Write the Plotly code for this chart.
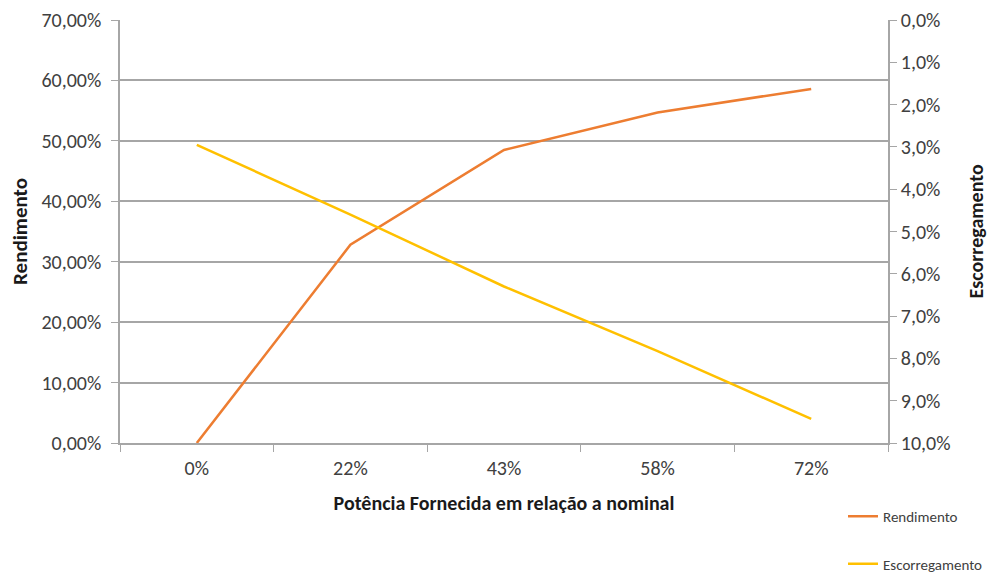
import plotly.graph_objects as go

# Potência fornecida (fração da nominal) e resultados medidos
categorias = ["0%", "22%", "43%", "58%", "72%"]
rendimento = [0.0, 0.328, 0.485, 0.547, 0.586]
escorregamento = [0.0295, 0.046, 0.063, 0.0783, 0.0943]

FONT = "Carlito, Calibri, Lato, sans-serif"
TICK_COLOR = "#404040"
TITLE_COLOR = "#1a1a1a"
AXIS_COLOR = "#a6a6a6"

fig = go.Figure()
fig.add_trace(go.Scatter(
    x=categorias, y=rendimento, name="Rendimento", mode="lines",
    line=dict(color="#ED7D31", width=2.5), legendgroup="a",
))
fig.add_trace(go.Scatter(
    x=categorias, y=escorregamento, name="Escorregamento", mode="lines",
    line=dict(color="#FFC000", width=2.5), yaxis="y2", legendgroup="b",
))

fig.update_layout(
    width=989, height=573,
    margin=dict(l=120, r=101, t=20, b=130, autoexpand=False),
    paper_bgcolor="white", plot_bgcolor="white",
    separators=",.",
    font=dict(family=FONT, size=20, color=TICK_COLOR),
    xaxis=dict(
        type="category", range=[-0.5, 4.5], automargin=False,
        showgrid=False, showline=True, linecolor=AXIS_COLOR, linewidth=1.5,
        ticks="outside", tickson="boundaries", ticklen=7, tickcolor=AXIS_COLOR,
        ticklabelstandoff=6,
        tickfont=dict(size=20, color=TICK_COLOR),
        title=dict(text="<b>Potência Fornecida em relação a nominal</b>",
                   font=dict(size=20, color=TITLE_COLOR), standoff=17),
    ),
    yaxis=dict(
        range=[0, 0.7], dtick=0.1, tickformat=".2%", automargin=False,
        showgrid=True, gridcolor=AXIS_COLOR, gridwidth=1.5,
        showline=True, linecolor=AXIS_COLOR, linewidth=1.5,
        ticks="outside", ticklen=7, tickcolor=AXIS_COLOR,
        ticklabelstandoff=6,
        tickfont=dict(size=20, color=TICK_COLOR), zeroline=False,
        title=dict(text="<b>Rendimento</b>", font=dict(size=21, color=TITLE_COLOR),
                   standoff=8),
    ),
    yaxis2=dict(
        overlaying="y", side="right", automargin=False,
        range=[0.10, 0.0], dtick=0.01, tickformat=".1%",
        showgrid=False, showline=True, linecolor=AXIS_COLOR, linewidth=1.5,
        ticks="outside", ticklen=7, tickcolor=AXIS_COLOR,
        tickfont=dict(size=20, color=TICK_COLOR), zeroline=False,
    ),
    annotations=[dict(
        text="<b>Escorregamento</b>", textangle=-90,
        xref="paper", yref="paper", x=(975 - 120) / 768, y=0.5,
        xanchor="center", yanchor="middle", showarrow=False,
        font=dict(size=20, color=TITLE_COLOR),
    )],
    legend=dict(
        xref="container", yref="container",
        x=843 / 989, y=1 - 500 / 573, xanchor="left", yanchor="top",
        traceorder="grouped", tracegroupgap=25,
        font=dict(size=15, color=TICK_COLOR),
        bgcolor="rgba(0,0,0,0)",
    ),
    showlegend=True,
)

fig.write_html("out.html")
